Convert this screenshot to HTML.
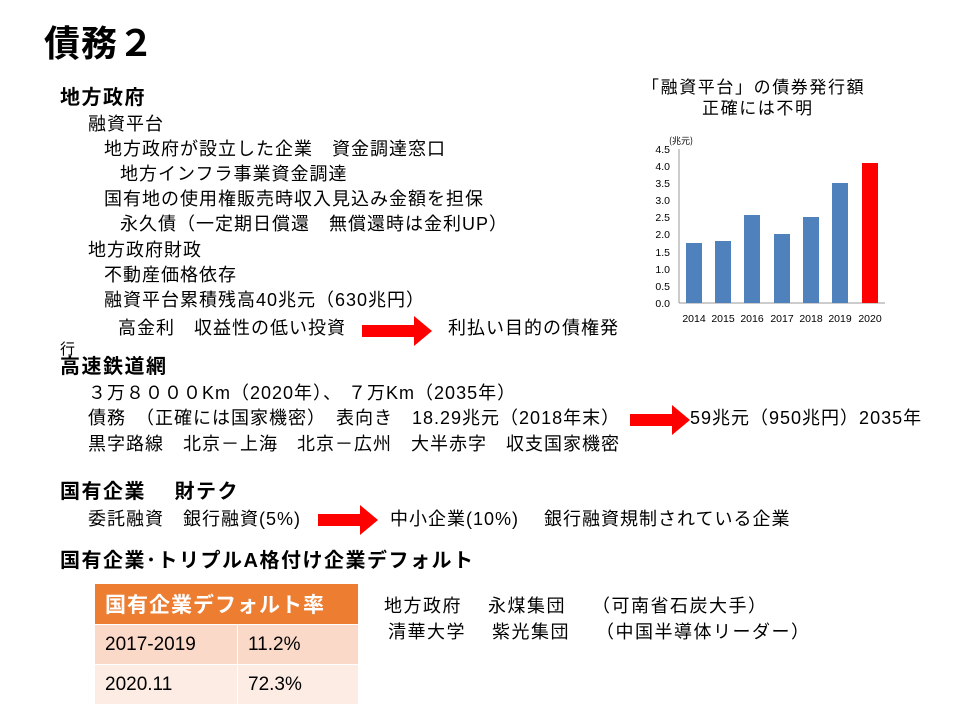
<!DOCTYPE html>
<html><head><meta charset="utf-8"><style>
body{margin:0;width:960px;height:720px;background:#fff;position:relative;overflow:hidden;font-family:"Liberation Sans","Noto Sans CJK JP",sans-serif;color:#000}
.t{position:absolute;white-space:nowrap;font-size:18px;line-height:20px;letter-spacing:1px}
.b{font-weight:bold;font-size:20px;letter-spacing:1.5px}
.arr{position:absolute;height:12px;background:#f00}
.arr:after{content:"";position:absolute;right:-18px;top:-9px;border-left:18px solid #f00;border-top:15px solid transparent;border-bottom:15px solid transparent}
table{position:absolute;left:94px;top:583px;border-collapse:collapse;font-size:19px}
td{border:1px solid #fff;padding:0 10px;height:39px}
</style></head><body>
<div class="t" style="left:44px;top:22px;font-size:36px;line-height:44px;font-weight:bold;letter-spacing:1px">債務２</div>
<div class="t b" style="left:60px;top:88px">地方政府</div>
<div class="t" style="left:88px;top:114px">融資平台</div>
<div class="t" style="left:104px;top:139px">地方政府が設立した企業　資金調達窓口</div>
<div class="t" style="left:120px;top:164px">地方インフラ事業資金調達</div>
<div class="t" style="left:104px;top:189px">国有地の使用権販売時収入見込み金額を担保</div>
<div class="t" style="left:120px;top:214px">永久債（一定期日償還　無償還時は金利UP）</div>
<div class="t" style="left:88px;top:240px">地方政府財政</div>
<div class="t" style="left:104px;top:265px">不動産価格依存</div>
<div class="t" style="left:104px;top:290px">融資平台累積残高40兆元（630兆円）</div>
<div class="t" style="left:118px;top:318px">高金利　収益性の低い投資</div>
<div class="arr" style="left:362px;top:325px;width:52px"></div>
<div class="t" style="left:448px;top:318px">利払い目的の債権発</div>
<div class="t" style="left:60px;top:340px;font-size:15px">行</div>
<div class="t b" style="left:60px;top:357px">高速鉄道網</div>
<div class="t" style="left:88px;top:383px">３万８０００Km（2020年）、 ７万Km（2035年）</div>
<div class="t" style="left:88px;top:408px">債務　（正確には国家機密）　表向き　18.29兆元（2018年末）</div>
<div class="arr" style="left:630px;top:414px;width:42px"></div>
<div class="t" style="left:690px;top:408px">59兆元（950兆円）2035年</div>
<div class="t" style="left:88px;top:434px">黒字路線　北京－上海　北京－広州　大半赤字　収支国家機密</div>
<div class="t b" style="left:60px;top:482px">国有企業　 財テク</div>
<div class="t" style="left:88px;top:509px">委託融資　銀行融資(5%)</div>
<div class="arr" style="left:318px;top:514px;width:42px"></div>
<div class="t" style="left:390px;top:509px">中小企業(10%)　 銀行融資規制されている企業</div>
<div class="t b" style="left:60px;top:551px">国有企業･トリプルA格付け企業デフォルト</div>
<table>
<tr style="background:#ed7d31;color:#fff"><td colspan="2" style="height:40px;font-size:21px;font-weight:bold;width:243px;letter-spacing:1px">国有企業デフォルト率</td></tr>
<tr style="background:#fbd9c9"><td style="width:122px">2017-2019</td><td>11.2%</td></tr>
<tr style="background:#fdece4"><td>2020.11</td><td>72.3%</td></tr>
</table>
<div class="t" style="left:384px;top:596px;letter-spacing:1.5px">地方政府　 永煤集団　 （可南省石炭大手）</div>
<div class="t" style="left:388px;top:622px;letter-spacing:1.5px">清華大学　 紫光集団　 （中国半導体リーダー）</div>
<div class="t" style="left:642px;top:78px;font-size:17px;letter-spacing:1.6px">「融資平台」の債券発行額</div>
<div class="t" style="left:702px;top:99px;font-size:17px;letter-spacing:1.6px">正確には不明</div>
<svg style="position:absolute;left:0;top:0" width="960" height="720" font-family="Liberation Sans,sans-serif" font-size="10.5">
<text x="669" y="144" font-size="9" font-family="Noto Sans CJK JP">(兆元)</text>
<g text-anchor="end">
<text x="670" y="307">0.0</text><text x="670" y="290">0.5</text><text x="670" y="273">1.0</text><text x="670" y="256">1.5</text><text x="670" y="238">2.0</text><text x="670" y="221">2.5</text><text x="670" y="204">3.0</text><text x="670" y="187">3.5</text><text x="670" y="170">4.0</text><text x="670" y="153">4.5</text>
</g>
<line x1="679" y1="149" x2="679" y2="303" stroke="#999"/>
<line x1="679" y1="303" x2="885" y2="303" stroke="#999"/>
<g fill="#4f81bd">
<rect x="686" y="243" width="16" height="60"/><rect x="715" y="241" width="16" height="62"/><rect x="744" y="215" width="16" height="88"/><rect x="774" y="234" width="16" height="69"/><rect x="803" y="217" width="16" height="86"/><rect x="832" y="183" width="16" height="120"/>
</g>
<rect x="862" y="163" width="16" height="140" fill="#f00"/>
<g text-anchor="middle"><text x="694" y="322">2014</text><text x="723" y="322">2015</text><text x="752" y="322">2016</text><text x="782" y="322">2017</text><text x="811" y="322">2018</text><text x="840" y="322">2019</text><text x="870" y="322">2020</text></g>
</svg>
</body></html>
